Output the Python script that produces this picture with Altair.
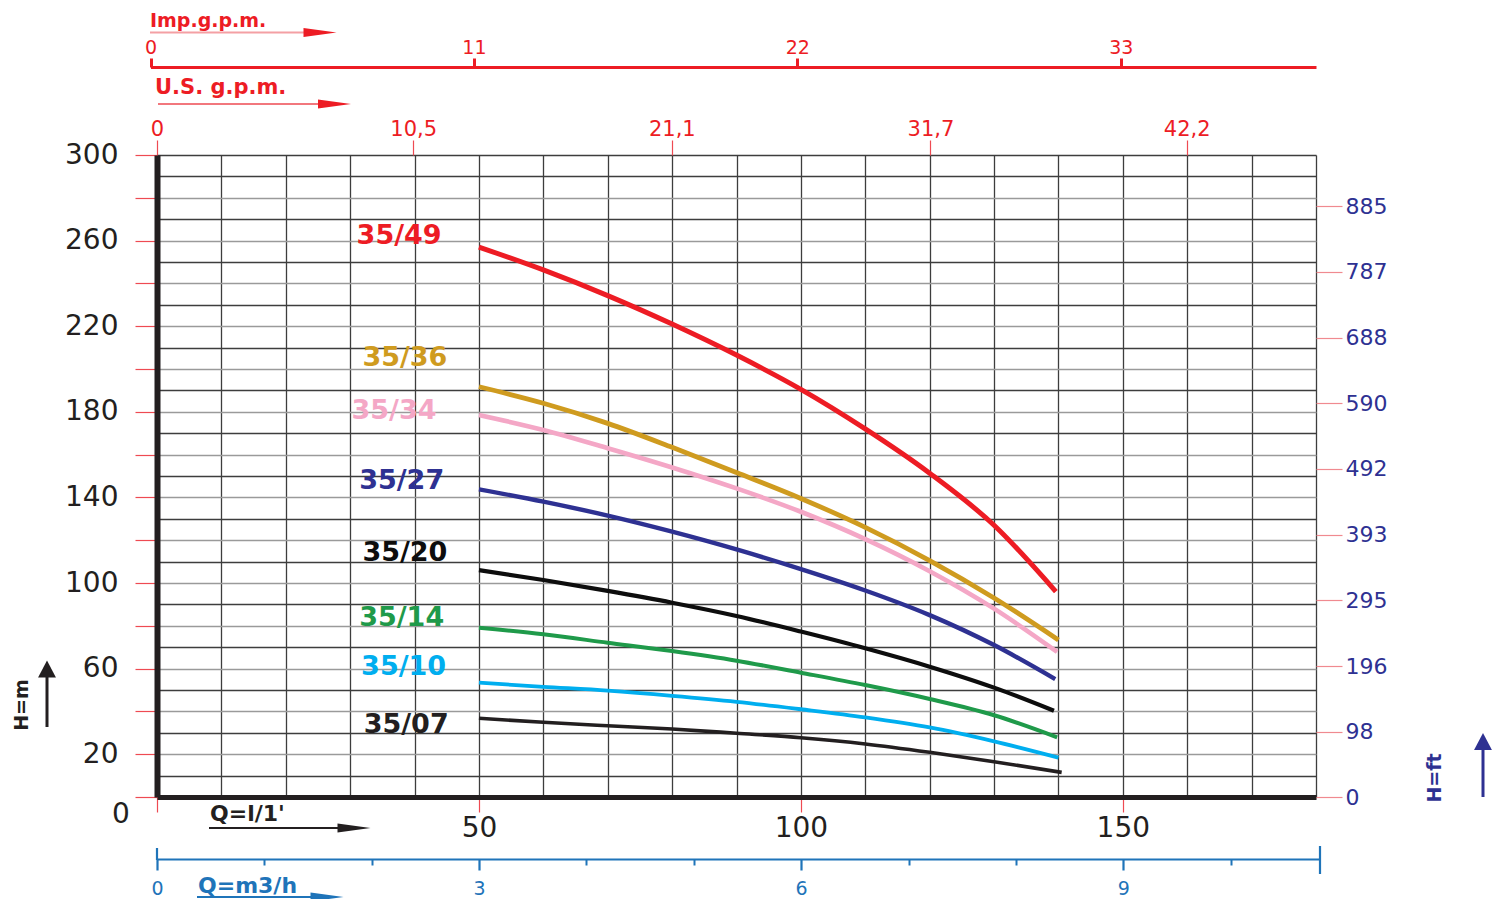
import altair as alt
import pandas as pd

# ---------------- data ----------------
models = ["35/49", "35/36", "35/34", "35/27", "35/20", "35/14", "35/10", "35/07"]
q_points = [50, 60, 70, 80, 90, 100, 110, 120, 130]          # l/min
q_end = [139.6, 140.0, 139.8, 139.5, 139.3, 139.8, 140.0, 140.5]

h_3549 = [257.0, 246.3, 234.3, 221.0, 206.5, 190.5, 172.0, 151.3, 127.0, 96.0]
h_3536 = [191.7, 184.0, 174.6, 163.4, 151.6, 139.5, 126.0, 110.5, 93.0, 73.4]
h_3534 = [178.5, 171.5, 163.0, 154.0, 144.2, 133.3, 120.5, 105.5, 88.0, 67.8]
h_3527 = [143.8, 138.0, 131.5, 124.0, 115.7, 106.5, 96.5, 85.0, 71.0, 55.1]
h_3520 = [106.0, 101.4, 96.3, 90.8, 84.6, 77.3, 69.5, 60.9, 51.1, 40.3]
h_3514 = [79.1, 76.0, 72.1, 68.2, 63.7, 58.1, 52.3, 45.8, 38.2, 27.9]
h_3510 = [53.4, 51.5, 49.7, 47.3, 44.5, 41.0, 37.2, 32.5, 26.0, 18.4]
h_3507 = [36.8, 34.9, 33.3, 31.8, 29.8, 27.7, 24.8, 20.9, 16.5, 11.5]
heads = [h_3549, h_3536, h_3534, h_3527, h_3520, h_3514, h_3510, h_3507]

label_q = [37.6, 38.5, 36.8, 38.0, 38.5, 38.0, 38.3, 38.7]
label_h = [262.1, 205.1, 180.4, 147.7, 114.0, 83.6, 60.7, 33.6]

q_ticks = list(range(0, 181, 10))
h_ticks = list(range(0, 301, 10))
us_gpm = [0, 10.5, 21.1, 31.7, 42.2]
imp_gpm = [0, 11, 22, 33]
m3h_major = [0, 3, 6, 9]
m3h_minor = [1, 2, 4, 5, 7, 8, 10]
ft_labels = [0, 98, 196, 295, 393, 492, 590, 688, 787, 885]

# ---------------- styles ----------------
colors = ["#ed1c24", "#cf9b1f", "#f4a7c6", "#2e3192", "#0d0d0d", "#1f9a4a", "#00aeef", "#231f20"]
widths = [5, 3.6, 3.6, 3.6, 3.6, 3.6, 3.6, 3.2]
RED = "#ed1c24"
TICKRED = "#ee4a52"
BLUE = "#1f74b9"
NAVY = "#2e3192"
BLACK = "#231f20"
FONT = "DejaVu Sans"
W, H = 1159, 642

rows = []
for m, hs, qe in zip(models, heads, q_end):
    for q, h in zip(q_points + [qe], hs):
        rows.append({"model": m, "q": q, "h": h})
curve_df = pd.DataFrame(rows)
label_df = pd.DataFrame({"model": models, "q": label_q, "h": label_h})

xq = alt.Scale(domain=[0, 180], nice=False, zero=False)
yh = alt.Scale(domain=[0, 300], nice=False, zero=False)
cscale = alt.Scale(domain=models, range=colors)

curves = alt.Chart(curve_df).mark_line(interpolate="monotone", strokeCap="butt").encode(
    x=alt.X("q:Q", scale=xq, axis=alt.Axis(
        orient="bottom", values=q_ticks, title=None, grid=True,
        gridColor="#3d3d3d", gridWidth=1.3, gridOpacity=1,
        domainColor=BLACK, domainWidth=5,
        tickColor={"condition": {"test": "datum.value % 50 === 0 && datum.value < 180", "value": TICKRED},
                   "value": "transparent"},
        tickSize=15, tickWidth=1.2,
        labelExpr="datum.value % 50 === 0 && datum.value > 0 && datum.value < 180 ? datum.label : ''",
        labelFont=FONT, labelFontSize=28, labelColor=BLACK, labelPadding=2,
        labelOverlap=False, labelFlush=False)),
    y=alt.Y("h:Q", scale=yh, axis=alt.Axis(
        orient="left", values=h_ticks, title=None, grid=True,
        gridColor={"condition": {"test": "datum.value % 20 === 0 && datum.value > 0 && datum.value < 300",
                                 "value": "#9a9a9a"}, "value": "#3d3d3d"},
        gridWidth=1.3, gridOpacity=1,
        domainColor=BLACK, domainWidth=6,
        tickColor={"condition": {"test": "datum.value % 20 === 0", "value": TICKRED}, "value": "transparent"},
        tickSize=22, tickWidth=1.2,
        labelExpr="datum.value % 40 === 20 ? datum.label : ''",
        labelFont=FONT, labelFontSize=28, labelColor=BLACK, labelPadding=17,
        labelOverlap=False, labelFlush=False)),
    color=alt.Color("model:N", scale=cscale, legend=None),
    strokeWidth=alt.StrokeWidth("model:N", scale=alt.Scale(domain=models, range=widths), legend=None),
)

labels = alt.Chart(label_df).mark_text(font=FONT, fontWeight="bold", fontSize=27,
                                       align="center", baseline="middle").encode(
    x=alt.X("q:Q", scale=xq, axis=None),
    y=alt.Y("h:Q", scale=yh, axis=None),
    text="model:N",
    color=alt.Color("model:N", scale=cscale, legend=None),
)

# US gallons per minute (top axis)
us_layer = alt.Chart(pd.DataFrame({"g": us_gpm})).mark_point(opacity=0).encode(
    x=alt.X("g:Q", scale=alt.Scale(domain=[0, 47.5], nice=False, zero=False), axis=alt.Axis(
        orient="top", values=us_gpm, title=None, grid=False, domain=False,
        tickColor=TICKRED, tickSize=15, tickWidth=1.2,
        labelExpr="datum.value === 0 ? '0' : replace(format(datum.value, '.1f'), '.', ',')",
        labelFont=FONT, labelFontSize=21, labelColor=RED, labelPadding=1,
        labelOverlap=False, labelFlush=False)),
)

# Imperial gallons per minute (upper top axis)
imp_layer = alt.Chart(pd.DataFrame({"g": imp_gpm})).mark_point(opacity=0).encode(
    x=alt.X("g:Q", scale=alt.Scale(domain=[0, 39.64], range=[-6.5, W], nice=False, zero=False),
            axis=alt.Axis(
                orient="top", offset=88, values=imp_gpm, title=None, grid=False,
                domain=True, domainColor=RED, domainWidth=3,
                tickColor=RED, tickSize=9, tickWidth=3,
                labelFont=FONT, labelFontSize=19, labelColor=RED, labelPadding=1,
                labelOverlap=False, labelFlush=False)),
)

# m3/h (lower bottom axis)
m3h_scale = alt.Scale(domain=[0, 10.833], range=[0, 1163], nice=False, zero=False)
m3h_layer = alt.Chart(pd.DataFrame({"m": m3h_major})).mark_point(opacity=0).encode(
    x=alt.X("m:Q", scale=m3h_scale, axis=alt.Axis(
        orient="bottom", offset=62, values=m3h_major, title=None, grid=False,
        domain=True, domainColor=BLUE, domainWidth=2,
        tickColor=BLUE, tickSize=11, tickWidth=2.2,
        labelFont=FONT, labelFontSize=19, labelColor=BLUE, labelPadding=9,
        labelOverlap=False, labelFlush=False)),
)
m3h_minor_layer = alt.Chart(pd.DataFrame({"m": m3h_minor})).mark_point(opacity=0).encode(
    x=alt.X("m:Q", scale=m3h_scale, axis=alt.Axis(
        orient="bottom", offset=62, values=m3h_minor, title=None, grid=False,
        domain=False, labels=False, tickColor=BLUE, tickSize=6, tickWidth=2)),
)

# feet (right axis)
ft_layer = alt.Chart(pd.DataFrame({"f": ft_labels})).mark_point(opacity=0).encode(
    y=alt.Y("f:Q", scale=alt.Scale(domain=[0, 962], nice=False, zero=False), axis=alt.Axis(
        orient="right", values=ft_labels, title=None, grid=False, domain=False,
        tickColor="#f08a90", tickSize=26, tickWidth=1.2,
        labelFont=FONT, labelFontSize=22, labelColor=NAVY, labelPadding=3,
        labelOverlap=False, labelFlush=False)),
)

# ---------------- decorations (pixel layout, relative to the plot area) ----------------
title_txt = pd.DataFrame([
    {"t": "Imp.g.p.m.", "px": -7, "py": -134, "c": RED, "s": 19},
    {"t": "U.S. g.p.m.", "px": -2, "py": -67, "c": RED, "s": 21},
    {"t": "Q=l/1'", "px": 53, "py": 659, "c": BLACK, "s": 22},
    {"t": "Q=m3/h", "px": 41, "py": 731, "c": BLUE, "s": 22},
])
titles = alt.Chart(title_txt).mark_text(font=FONT, fontWeight="bold", align="left", baseline="middle").encode(
    x=alt.X("px:Q", scale=None), y=alt.Y("py:Q", scale=None),
    text="t:N", color=alt.Color("c:N", scale=None), size=alt.Size("s:Q", scale=None),
)
rot_txt = pd.DataFrame([
    {"t": "H=m", "px": -135, "py": 550, "c": BLACK},
    {"t": "H=ft", "px": 1278, "py": 623, "c": NAVY},
])
rot_titles = alt.Chart(rot_txt).mark_text(font=FONT, fontWeight="bold", fontSize=19, angle=270,
                                          align="center", baseline="middle").encode(
    x=alt.X("px:Q", scale=None), y=alt.Y("py:Q", scale=None),
    text="t:N", color=alt.Color("c:N", scale=None),
)
zero_txt = alt.Chart(pd.DataFrame([{"t": "0", "px": -36, "py": 660}])).mark_text(
    font=FONT, fontSize=28, color=BLACK, align="center", baseline="middle").encode(
    x=alt.X("px:Q", scale=None), y=alt.Y("py:Q", scale=None), text="t:N")

rules_df = pd.DataFrame([
    {"x": -7, "x2": 150, "y": -122.5, "y2": -122.5, "c": "#f4a0a4", "w": 2},
    {"x": 1, "x2": 165, "y": -51, "y2": -51, "c": TICKRED, "w": 1.5},
    {"x": 52, "x2": 185, "y": 673, "y2": 673, "c": BLACK, "w": 2},
    {"x": 40, "x2": 160, "y": 742, "y2": 742, "c": BLUE, "w": 2},
    {"x": -110, "x2": -110, "y": 520, "y2": 572, "c": BLACK, "w": 3},
    {"x": 1326, "x2": 1326, "y": 590, "y2": 642, "c": NAVY, "w": 3},
    {"x": 0, "x2": 0, "y": 693, "y2": 705, "c": BLUE, "w": 2.2},
    {"x": 1163, "x2": 1163, "y": 691, "y2": 719, "c": BLUE, "w": 2.2},
])
rules = alt.Chart(rules_df).mark_rule(strokeCap="butt").encode(
    x=alt.X("x:Q", scale=None), x2="x2:Q", y=alt.Y("y:Q", scale=None), y2="y2:Q",
    color=alt.Color("c:N", scale=None), strokeWidth=alt.StrokeWidth("w:Q", scale=None),
)

thin_heads = pd.DataFrame([
    {"x": 163, "y": -122.5, "c": RED},
    {"x": 177.5, "y": -51, "c": RED},
    {"x": 197, "y": 673, "c": BLACK},
    {"x": 170, "y": 742, "c": BLUE},
])
thin = alt.Chart(thin_heads).mark_point(shape="M-1,-0.27L1,0L-1,0.27Z", filled=True, opacity=1,
                                        size=1089, strokeWidth=0).encode(
    x=alt.X("x:Q", scale=None), y=alt.Y("y:Q", scale=None), color=alt.Color("c:N", scale=None))
fat_heads = pd.DataFrame([
    {"x": -110, "y": 514, "c": BLACK},
    {"x": 1326, "y": 586.5, "c": NAVY},
])
fat = alt.Chart(fat_heads).mark_point(shape="M-1,-1.05L1,0L-1,1.05Z", filled=True, opacity=1,
                                      size=289, angle=270, strokeWidth=0).encode(
    x=alt.X("x:Q", scale=None), y=alt.Y("y:Q", scale=None), color=alt.Color("c:N", scale=None))

chart = alt.layer(
    curves, labels, us_layer, imp_layer, m3h_layer, m3h_minor_layer, ft_layer,
    titles, rot_titles, zero_txt, rules, thin, fat,
).resolve_scale(x="independent", y="independent").properties(
    width=W, height=H,
    autosize=alt.AutoSizeParams(type="none"),
    padding={"left": 149, "top": 147, "right": 177, "bottom": 104},
    background="white",
).configure_view(stroke=None)

chart.save("out.html", embed_options={"renderer": "svg", "actions": False})
